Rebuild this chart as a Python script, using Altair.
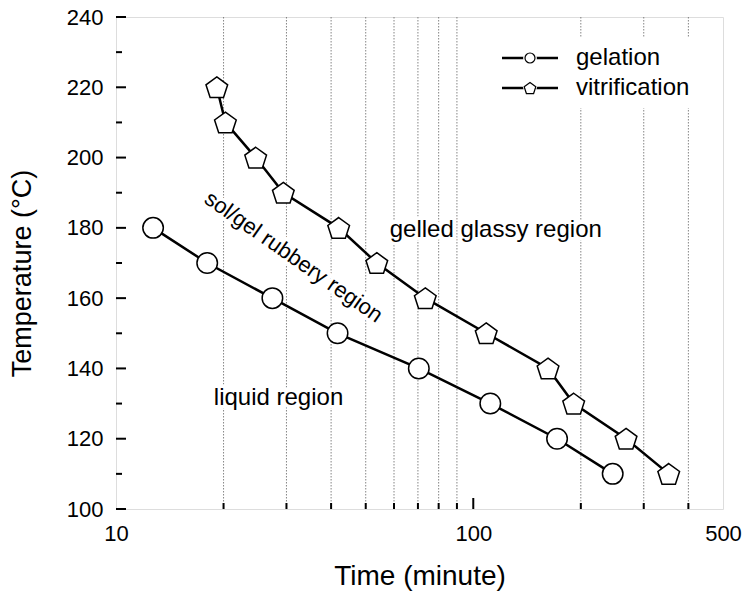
import altair as alt
import pandas as pd

# ---- data ----
series_names = ["gelation", "vitrification"]
gel_time = [12.7, 18.0, 27.4, 41.7, 70.4, 111.6, 171.6, 245.6]
gel_temp = [180, 170, 160, 150, 140, 130, 120, 110]
vit_time = [19.15, 20.24, 24.6, 29.4, 42.0, 53.7, 73.4, 108.7, 161.9, 191.0, 267.7, 352.4]
vit_temp = [220, 210, 200, 190, 180, 170, 160, 150, 140, 130, 120, 110]

x_labels = [10, 100, 500]
x_minor = [20, 30, 40, 50, 60, 70, 80, 90, 200, 300, 400]
y_labels = [100, 120, 140, 160, 180, 200, 220, 240]
y_minor = [110, 130, 150, 170, 190, 210, 230]

ann_text = ["gelled glassy region", "liquid region", "sol/gel rubbery region"]
ann_x = [115.6, 28.5, 30.6]
ann_y = [177.4, 129.6, 170.1]
ann_angle = [0, 0, 35]
ann_size = [24, 24, 22]

W, H = 607, 492
FONT = "Liberation Sans"
PENT = "M0,-0.905L0.9511,-0.214L0.5878,0.904L-0.5878,0.904L-0.9511,-0.214Z"

df = pd.DataFrame(
    {"time": gel_time + vit_time,
     "temp": gel_temp + vit_temp,
     "series": [series_names[0]] * len(gel_time) + [series_names[1]] * len(vit_time)}
)
ann = pd.DataFrame({"text": ann_text, "x": ann_x, "y": ann_y, "angle": ann_angle, "size": ann_size})

xs = alt.Scale(type="log", domain=[10, 500], nice=False)
ys = alt.Scale(domain=[100, 240], nice=False, zero=False)

X = alt.X("time:Q", scale=xs,
          axis=alt.Axis(values=x_labels, title="Time (minute)", grid=False, ticks=False,
                        domain=False, labelFontSize=22, labelPadding=14, labelFont=FONT,
                        labelColor="black", labelFlush=False, format="d",
                        titleFont=FONT, titleFontSize=28, titleFontWeight="normal",
                        titleColor="black", titlePadding=18))
Y = alt.Y("temp:Q", scale=ys,
          axis=alt.Axis(values=y_labels, title="Temperature (°C)", grid=False, ticks=False,
                        domain=False, labelFontSize=22, labelPadding=13, labelFont=FONT,
                        labelColor="black", labelFlush=False,
                        titleFont=FONT, titleFontSize=27, titleFontWeight="normal",
                        titleColor="black", titleX=-86, titleY=256,
                        titleBaseline="alphabetic", titleAlign="center", titleAngle=270))

base = alt.Chart(df)

grid = alt.Chart(pd.DataFrame({"v": x_minor})).mark_rule(
    color="#666666", strokeWidth=0.8, strokeDash=[1.5, 1.5]
).encode(x=alt.X("v:Q", scale=xs), y=alt.value(0), y2=alt.value(H))

legend_bg = alt.Chart(pd.DataFrame({"a": [0]})).mark_rect(color="white").encode(
    x=alt.value(378), x2=alt.value(600), y=alt.value(21), y2=alt.value(91))

ann_base = alt.Chart(ann)
enc = dict(x=alt.X("x:Q", scale=xs), y=alt.Y("y:Q", scale=ys), text="text:N",
           angle=alt.Angle("angle:Q", scale=None), size=alt.Size("size:Q", scale=None))
halo_txt = ann_base.mark_text(font=FONT, align="center", baseline="alphabetic",
                              stroke="white", strokeWidth=7, color="white").encode(**enc)
txt = ann_base.mark_text(font=FONT, align="center", baseline="alphabetic",
                         color="black").encode(**enc)

lines = base.mark_line(color="black", strokeWidth=2.5).encode(
    x=X, y=Y, detail="series:N")

shape_scale = alt.Scale(domain=series_names, range=["circle", PENT])
halo_pts = base.mark_point(filled=True, color="white", opacity=1).encode(
    x=alt.X("time:Q", scale=xs), y=alt.Y("temp:Q", scale=ys),
    shape=alt.Shape("series:N", scale=shape_scale, legend=None),
    size=alt.Size("series:N", scale=alt.Scale(domain=series_names, range=[420, 520]), legend=None))
pts = base.mark_point(filled=False, fill="white", stroke="black", strokeWidth=1.5, opacity=1).encode(
    x=alt.X("time:Q", scale=xs), y=alt.Y("temp:Q", scale=ys),
    shape=alt.Shape("series:N", scale=shape_scale, legend=None),
    size=alt.Size("series:N", scale=alt.Scale(domain=series_names, range=[215, 290]), legend=None))

# inward ticks
yt_major = alt.Chart(pd.DataFrame({"v": y_labels})).mark_rule(color="black", strokeWidth=2).encode(
    y=alt.Y("v:Q", scale=ys), x=alt.value(0), x2=alt.value(10))
yt_minor = alt.Chart(pd.DataFrame({"v": y_minor})).mark_rule(color="black", strokeWidth=2).encode(
    y=alt.Y("v:Q", scale=ys), x=alt.value(0), x2=alt.value(6))
xt_major = alt.Chart(pd.DataFrame({"v": [100]})).mark_rule(color="black", strokeWidth=2).encode(
    x=alt.X("v:Q", scale=xs), y=alt.value(H), y2=alt.value(H - 11))
xt_minor = alt.Chart(pd.DataFrame({"v": x_minor})).mark_rule(color="black", strokeWidth=2).encode(
    x=alt.X("v:Q", scale=xs), y=alt.value(H), y2=alt.value(H - 6))

# legend
leg_layers = []
leg_y = [41, 71]
leg_shapes = ["circle", PENT]
leg_sizes = [100, 150]
one = pd.DataFrame({"a": [0]})
for name, yy, shp, sz in zip(series_names, leg_y, leg_shapes, leg_sizes):
    leg_layers.append(alt.Chart(one).mark_rule(color="black", strokeWidth=2.5).encode(
        x=alt.value(386), x2=alt.value(442), y=alt.value(yy)))
    leg_layers.append(alt.Chart(one).mark_point(shape=shp, size=sz + 90, filled=True, color="white", opacity=1).encode(
        x=alt.value(414), y=alt.value(yy)))
    leg_layers.append(alt.Chart(one).mark_point(shape=shp, size=sz, fill="white", stroke="black",
                                                strokeWidth=1.2, opacity=1).encode(
        x=alt.value(414), y=alt.value(yy)))
    leg_layers.append(alt.Chart(one).mark_text(text=name, font=FONT, fontSize=24, align="left",
                                               baseline="middle", color="black").encode(
        x=alt.value(460), y=alt.value(yy)))

chart = alt.layer(
    grid, legend_bg, halo_txt, txt, lines, halo_pts, pts,
    yt_major, yt_minor, xt_major, xt_minor, *leg_layers
).properties(
    width=W, height=H,
    autosize=alt.AutoSizeParams(type="none"),
    padding={"left": 116, "top": 17, "right": 21, "bottom": 92},
).configure_view(stroke="black", strokeWidth=2.2).configure(background="white")

chart.save("out.html", embed_options={"renderer": "svg", "actions": False})
